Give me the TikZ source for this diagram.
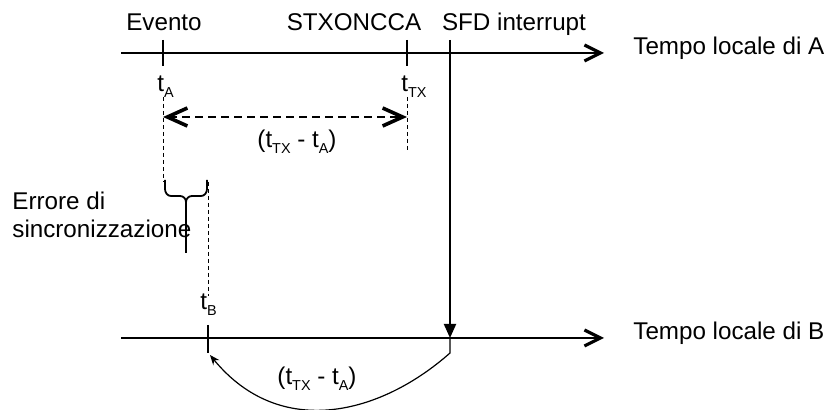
\documentclass[tikz,border=0pt]{standalone}
\usepackage{fontspec}
\setmainfont{Liberation Sans}
\usetikzlibrary{arrows.meta}

\newcommand{\lowsub}[1]{\raisebox{-2.6pt}{\fontsize{7.2}{8}\selectfont #1}}

\begin{document}
\begin{tikzpicture}[x=0.5pt, y=-0.5pt, >=Stealth,
    lbl/.style={font=\fontsize{12.1}{14}\selectfont, inner sep=0pt},
    timeaxis/.style={line width=1pt, -{Straight Barb[length=8pt,width=8pt,line width=1.6pt]}},
    tickmark/.style={line width=0.75pt},
    guide/.style={dashed, dash pattern=on 2pt off 1.5pt, line width=0.4pt}]

    \useasboundingbox (0,0) rectangle (830,410);

    % Axes
    \coordinate (a0) at (121,53);
    \coordinate (a1) at (604,53);
    \coordinate (b0) at (121,338);
    \coordinate (b1) at (604,338);
    \draw[timeaxis] (a0) -- (a1);
    \draw[timeaxis] (b0) -- (b1);
    \node[lbl, anchor=base west] (tA) at (633,55) {Tempo locale di A};
    \node[lbl, anchor=base west] (tB) at (633,340) {Tempo locale di B};

    % Events on A
    \coordinate (ev) at (163,53);
    \coordinate (tx) at (407,53);
    \coordinate (sfd) at (450,40);
    \coordinate (rx) at (450,338);
    \draw[tickmark] (163,40) -- (163,66);
    \draw[tickmark] (407,40) -- (407,66);
    \node[lbl, anchor=base] (evento) at (164,31) {Evento};
    \node[lbl, anchor=base] (stx) at (354,31) {STXONCCA};
    \node[lbl, anchor=base] (sfdlbl) at (514,31) {SFD interrupt};
    \node[lbl, anchor=base west] (ta) at (157,92) {t\lowsub{A}};
    \node[lbl, anchor=base west] (ttx) at (401,92) {t\lowsub{TX}};

    % Interval on A
    \coordinate (da) at (163,97);
    \coordinate (dtx) at (407,97);
    \draw[guide] (da) -- (163,182);
    \draw[guide] (dtx) -- (407,152);
    \draw[line width=1pt, dashed, dash pattern=on 4pt off 2.5pt,
        {Straight Barb[length=10pt,width=9pt,line width=1.8pt]}-{Straight Barb[length=10pt,width=9pt,line width=1.8pt]}]
        (163,117) -- (407,117);
    \node[lbl, anchor=base] (diffa) at (297,148) {(t\lowsub{TX} - t\lowsub{A})};

    % SFD to B
    \draw[line width=1pt, -{Triangle[length=7pt,width=6pt]}] (sfd) -- (rx);

    % Sync error
    \draw[line width=0.9pt] (165,180) -- (165,189) to[out=-90,in=180] (171,196) -- (180,196)
        to[out=0,in=90] (186,202) -- (186,253);
    \draw[line width=0.9pt] (207,180) -- (207,189) to[out=-90,in=0] (201,196) -- (192,196)
        to[out=180,in=90] (186,202);
    \draw[guide] (208,182) -- (208,296);
    \node[lbl, font=\fontsize{12.1}{14}\selectfont, anchor=base west, align=left] (err) at (12,238)
        {Errore di\\sincronizzazione};

    % Event on B
    \coordinate (tb) at (208,353);
    \draw[tickmark] (208,325) -- (tb);
    \node[lbl, anchor=base west] (tbl) at (200,310) {t\lowsub{B}};
    \draw[line width=0.6pt, -{Stealth[length=5pt,width=4pt]}] (rx) -- (450,353)
        .. controls (380,415) and (280,440) .. (210,355);
    \node[lbl, anchor=base] (diffb) at (317,385) {(t\lowsub{TX} - t\lowsub{A})};

\end{tikzpicture}
\end{document}
